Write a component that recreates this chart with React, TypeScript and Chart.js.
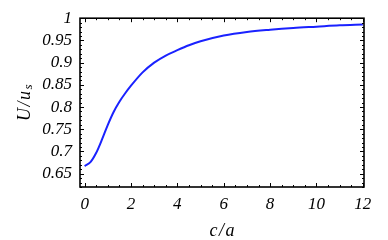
import React, { useEffect, useRef } from "react";
import { Chart, registerables } from "chart.js";

Chart.register(...registerables);

const xValues = [0, 0.25, 0.5, 0.75, 1, 1.25, 1.5, 1.75, 2, 2.5, 3, 3.5, 4, 4.5, 5, 6, 7, 8, 9, 10, 11, 12];
const yValues = [0.667, 0.676, 0.697, 0.727, 0.76, 0.789, 0.812, 0.831, 0.848, 0.878, 0.9, 0.916, 0.928, 0.939, 0.948, 0.961, 0.969, 0.974, 0.978, 0.981, 0.984, 0.986];
const xTicks = [0, 2, 4, 6, 8, 10, 12];
const yTicks = [0.65, 0.7, 0.75, 0.8, 0.85, 0.9, 0.95, 1];
const xMinorStep = 0.5;
const yMinorStep = 0.01;

const FONT = "'Liberation Serif', 'DejaVu Serif', serif";

const framePlugin = {
  id: "frame",
  afterDraw(chart: any) {
    const { ctx, chartArea: a, scales } = chart;
    const xs = scales.x;
    const ys = scales.y;
    ctx.save();
    ctx.strokeStyle = "#000";
    ctx.lineWidth = 1;
    const tick = (p: number, len: number, horiz: boolean) => {
      ctx.beginPath();
      if (horiz) {
        ctx.moveTo(p, a.bottom);
        ctx.lineTo(p, a.bottom - len);
        ctx.moveTo(p, a.top);
        ctx.lineTo(p, a.top + len);
      } else {
        ctx.moveTo(a.left, p);
        ctx.lineTo(a.left + len, p);
        ctx.moveTo(a.right, p);
        ctx.lineTo(a.right - len, p);
      }
      ctx.stroke();
    };
    for (let v = 0; v <= 12.0001; v += xMinorStep) {
      const p = Math.round(xs.getPixelForValue(v)) + 0.5;
      const major = xTicks.some((t) => Math.abs(t - v) < 1e-6);
      tick(p, major ? 4 : 2, true);
    }
    for (let v = 0.62; v <= 1.0001; v += yMinorStep) {
      const p = Math.round(ys.getPixelForValue(v)) + 0.5;
      const major = yTicks.some((t) => Math.abs(t - v) < 1e-6);
      tick(p, major ? 4 : 2, false);
    }
    ctx.lineWidth = 1.6;
    ctx.strokeRect(a.left, a.top, a.right - a.left, a.bottom - a.top);

    ctx.fillStyle = "#000";
    ctx.textBaseline = "middle";
    ctx.textAlign = "left";

    // x title
    ctx.font = `italic 18px ${FONT}`;
    const sp = 1.5;
    const chars = ["c", "/", "a"];
    const widths = chars.map((c) => ctx.measureText(c).width);
    const tw = widths.reduce((s, w) => s + w, 0) + sp * (chars.length - 1);
    let cx = (a.left + a.right) / 2 - tw / 2;
    chars.forEach((c, i) => {
      ctx.fillText(c, cx, 231);
      cx += widths[i] + sp;
    });

    // y title
    ctx.translate(25, (a.top + a.bottom) / 2);
    ctx.rotate(-Math.PI / 2);
    ctx.font = `italic 18px ${FONT}`;
    const parts = ["U", "/", "u"];
    const pw = parts.map((c) => ctx.measureText(c).width);
    ctx.font = `italic 13px ${FONT}`;
    const wSub = ctx.measureText("s").width;
    const sp2 = 1.5;
    const total = pw.reduce((s, w) => s + w, 0) + sp2 * 3 + wSub;
    let px = -total / 2;
    ctx.font = `italic 18px ${FONT}`;
    parts.forEach((c, i) => {
      ctx.fillText(c, px, 0);
      px += pw[i] + sp2;
    });
    ctx.font = `italic 13px ${FONT}`;
    ctx.fillText("s", px, 4);
    ctx.restore();
  },
};

export default function App() {
  const ref = useRef<HTMLCanvasElement>(null);
  useEffect(() => {
    const canvas = ref.current!;
    const chart = new Chart(canvas, {
      type: "line",
      data: {
        datasets: [
          {
            data: xValues.map((x, i) => ({ x, y: yValues[i] })),
            borderColor: "#1a22ff",
            borderWidth: 2,
            pointRadius: 0,
            fill: false,
            cubicInterpolationMode: "monotone",
          },
        ],
      },
      options: {
        animation: false,
        responsive: false,
        layout: { padding: { top: 12, right: 24, left: 0, bottom: 0 } },
        plugins: { legend: { display: false }, tooltip: { enabled: false } },
        scales: {
          x: {
            type: "linear",
            min: -0.2,
            max: 12.05,
            grid: { display: false, drawTicks: false },
            border: { display: false },
            afterBuildTicks: (s: any) => {
              s.ticks = xTicks.map((v) => ({ value: v }));
            },
            afterFit: (s: any) => {
              s.height = 53;
            },
            ticks: {
              color: "#000",
              padding: 7,
              maxRotation: 0,
              font: { family: FONT, size: 17, style: "italic" },
              callback: (v: any) => String(v),
            },
          },
          y: {
            type: "linear",
            min: 0.62,
            max: 1.0,
            grid: { display: false, drawTicks: false },
            border: { display: false },
            afterBuildTicks: (s: any) => {
              s.ticks = yTicks.map((v) => ({ value: v }));
            },
            afterFit: (s: any) => {
              s.width = 80;
            },
            ticks: {
              color: "#000",
              padding: 8,
              font: { family: FONT, size: 17, style: "italic" },
              callback: (v: any) => String(Math.round(v * 100) / 100),
            },
          },
        },
      },
      plugins: [framePlugin],
    } as any);
    return () => chart.destroy();
  }, []);
  return (
    <div style={{ position: "fixed", left: 0, top: 0, width: 388, height: 240, background: "#fff" }}>
      <canvas ref={ref} width={388} height={240} style={{ display: "block" }} />
    </div>
  );
}
